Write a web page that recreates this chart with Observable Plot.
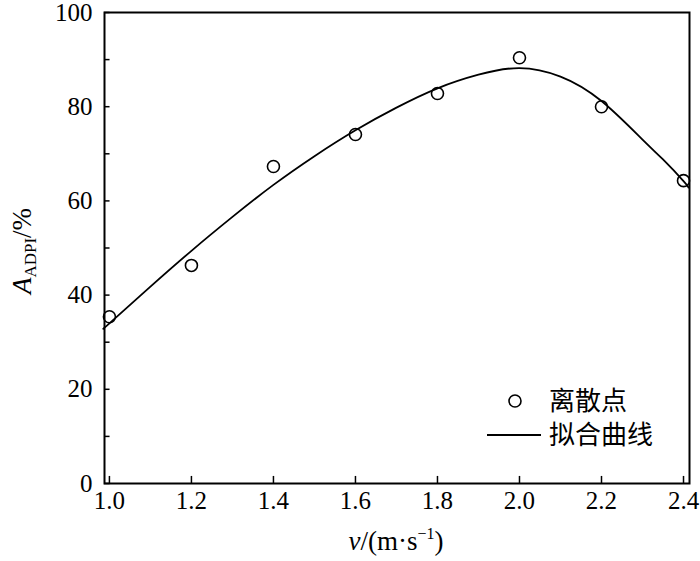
<!DOCTYPE html>
<html><head><meta charset="utf-8">
<script src="https://cdn.jsdelivr.net/npm/d3@7"></script>
<script src="https://cdn.jsdelivr.net/npm/@observablehq/plot@0.6"></script>
<style>body{margin:0;background:#fff}</style>
</head><body><div id="chart"></div>
<script>
// Scattered points (离散点)
const pointV = [1.0, 1.2, 1.4, 1.6, 1.8, 2.0, 2.2, 2.4];
const pointA = [35.4, 46.3, 67.3, 74.1, 82.8, 90.4, 80.0, 64.3];
// Fitted curve (拟合曲线)
const curveV = [0.988, 1.0, 1.1, 1.2, 1.3, 1.4, 1.5, 1.6, 1.7, 1.8, 1.9, 2.0, 2.1, 2.2, 2.3, 2.35, 2.4, 2.412];
const curveA = [33.1, 34.0, 41.8, 49.4, 56.6, 63.4, 69.5, 75.0, 79.8, 83.9, 86.8, 88.2, 86.4, 81.2, 73.0, 68.8, 64.2, 62.8];
// Axis ticks
const xTicks = [1.0, 1.2, 1.4, 1.6, 1.8, 2.0, 2.2, 2.4];
const yTicks = [0, 20, 40, 60, 80, 100];
const yMinor = [10, 30, 50, 70, 90];
const legendLabels = ["离散点", "拟合曲线"];

const points = pointV.map((v, i) => ({v, a: pointA[i]}));
const curve = curveV.map((v, i) => ({v, a: curveA[i]}));
const xDomain = [0.988, 2.4146];
const yDomain = [0, 100];

const plot = Plot.plot({
  width: 700,
  height: 561,
  marginLeft: 104,
  marginRight: 11,
  marginTop: 12,
  marginBottom: 78,
  style: {fontFamily: "'Liberation Serif', 'Times New Roman', serif", fontSize: "25px", background: "#fff", color: "#000"},
  x: {domain: xDomain, axis: null},
  y: {domain: yDomain, axis: null},
  marks: [
    Plot.axisX(xTicks, {tickSize: 0, tickPadding: 8, fontSize: 25, tickFormat: d => d.toFixed(1), label: null}),
    Plot.axisY(yTicks, {tickSize: 0, tickPadding: 12, fontSize: 25, label: null}),
    Plot.ruleX(xTicks, {x: d => d, y1: 0, y2: 1.5, stroke: "#000", strokeWidth: 1.5}),
    Plot.ruleY(yTicks.concat(yMinor), {y: d => d, x1: xDomain[0], x2: xDomain[0] + 0.0135, stroke: "#000", strokeWidth: 1.5}),
    Plot.line(curve, {x: "v", y: "a", curve: "natural", stroke: "#000", strokeWidth: 1.8}),
    Plot.dot(points, {x: "v", y: "a", r: 6, stroke: "#000", strokeWidth: 1.6, fill: "none"}),
    Plot.frame({stroke: "#000", strokeWidth: 2})
  ]
});

const svg = d3.select(plot);
// y-axis label
const yl = svg.append("text")
  .attr("transform", "translate(31,251) rotate(-90)")
  .attr("text-anchor", "middle")
  .attr("font-family", "'Liberation Serif', serif")
  .attr("font-size", 27)
  .attr("fill", "#000");
yl.append("tspan").attr("font-style", "italic").text("A");
yl.append("tspan").attr("font-size", 17).attr("dy", 5).text("ADPI");
yl.append("tspan").attr("dy", -5).text("/%");
// x-axis label
const xl = svg.append("text")
  .attr("x", 396).attr("y", 550)
  .attr("text-anchor", "middle")
  .attr("font-family", "'Liberation Serif', serif")
  .attr("font-size", 27)
  .attr("fill", "#000");
xl.append("tspan").attr("font-style", "italic").text("v");
xl.append("tspan").text("/(m·s");
xl.append("tspan").attr("font-size", 16).attr("dy", -11).text("−1");
xl.append("tspan").attr("dy", 11).text(")");
// legend
const lg = svg.append("g").attr("font-family", "'Noto Sans CJK SC', sans-serif").attr("font-size", 26).attr("fill", "#000").attr("text-anchor", "start");
lg.append("circle").attr("cx", 515).attr("cy", 401).attr("r", 6).attr("fill", "none").attr("stroke", "#000").attr("stroke-width", 1.6);
lg.append("text").attr("x", 549).attr("y", 401).attr("dy", "0.35em").attr("text-anchor", "start").text(legendLabels[0]);
lg.append("line").attr("x1", 487).attr("x2", 541).attr("y1", 435).attr("y2", 435).attr("stroke", "#000").attr("stroke-width", 1.8);
lg.append("text").attr("x", 549).attr("y", 435).attr("dy", "0.35em").attr("text-anchor", "start").text(legendLabels[1]);

document.getElementById("chart").appendChild(plot);
</script>
</body></html>
